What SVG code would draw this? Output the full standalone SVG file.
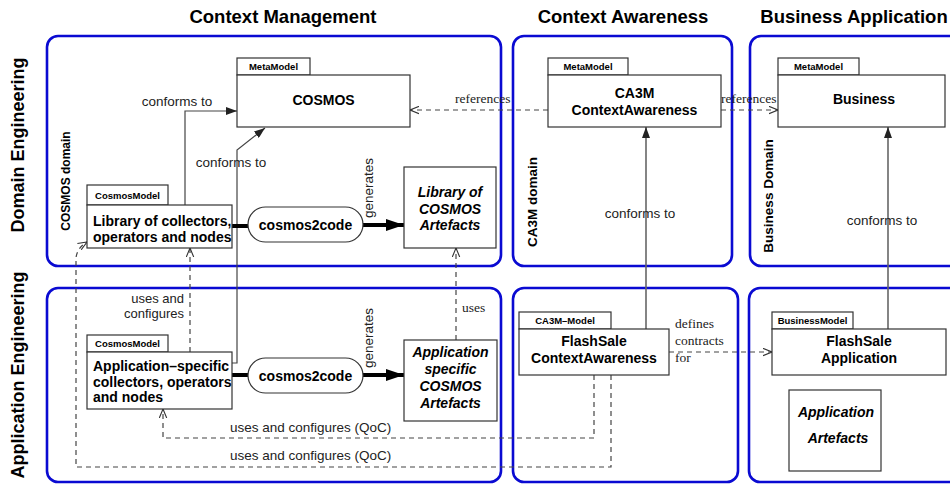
<svg xmlns="http://www.w3.org/2000/svg" width="950" height="484" viewBox="0 0 950 484">
  <defs>
    <!-- solid "conforms to" arrowhead -->
    <marker id="tri" markerUnits="userSpaceOnUse" markerWidth="11" markerHeight="8" refX="11" refY="4" orient="auto">
      <path d="M0,0 L11,4 L0,8 z" fill="#222"/>
    </marker>
    <!-- open arrowhead for dashed dependencies -->
    <marker id="open" markerUnits="userSpaceOnUse" markerWidth="10" markerHeight="9" refX="9" refY="4.5" orient="auto">
      <path d="M0,0.8 L9,4.5 L0,8.2" fill="none" stroke="#333" stroke-width="1.1"/>
    </marker>
    <!-- heavy arrowhead for code generation -->
    <marker id="big" markerUnits="userSpaceOnUse" markerWidth="18" markerHeight="12" refX="18" refY="6" orient="auto">
      <path d="M0,0 L18,6 L0,12 z" fill="#000"/>
    </marker>
  </defs>
  <style>
    .panel{fill:none;stroke:#0a0ad2;stroke-width:2.6}
    .box{fill:#fff;stroke:#333;stroke-width:1.2}
    text{font-family:"Liberation Sans",Arial,Helvetica,sans-serif;fill:#000}
    .title{font-weight:bold;font-size:18.5px;text-anchor:middle}
    .side{font-weight:bold;font-size:18px;text-anchor:middle}
    .dom{font-weight:bold;font-size:13.5px;text-anchor:middle}
    .tab{font-weight:bold;font-size:9.5px;text-anchor:middle}
    .name{font-weight:bold;font-size:14px;text-anchor:middle}
    .left{font-weight:bold;font-size:14px}
    .art{font-weight:bold;font-style:italic;font-size:14px;text-anchor:middle}
    .lbl{font-size:13.5px;fill:#222}
    .ser{font-family:"Liberation Serif","Times New Roman",serif;font-size:13.5px;fill:#222}
    .solid{fill:none;stroke:#444;stroke-width:1.2}
    .gray{fill:none;stroke:#666;stroke-width:1.6}
    .dash{fill:none;stroke:#444;stroke-width:1.2;stroke-dasharray:5 4}
    .thick{fill:none;stroke:#000;stroke-width:4}
  </style>

  <!-- column headings -->
  <text class="title" x="283" y="23">Context Management</text>
  <text class="title" x="623" y="23">Context Awareness</text>
  <text class="title" x="854" y="23">Business Application</text>

  <!-- row headings -->
  <text class="side" transform="translate(24,145) rotate(-90)">Domain Engineering</text>
  <text class="side" transform="translate(24,375) rotate(-90)">Application Engineering</text>

  <!-- domain panels -->
  <g id="panels">
    <rect class="panel" x="47" y="36" width="454" height="230" rx="11"/>
    <rect class="panel" x="513" y="36" width="219" height="230" rx="11"/>
    <rect class="panel" x="750" y="36" width="220" height="230" rx="11"/>
    <rect class="panel" x="47" y="288" width="454" height="194" rx="11"/>
    <rect class="panel" x="513" y="288" width="225" height="194" rx="11"/>
    <rect class="panel" x="749" y="288" width="220" height="194" rx="11"/>
  </g>
  <text class="dom" style="font-size:12px" transform="translate(70,181) rotate(-90)">COSMOS domain</text>
  <text class="dom" transform="translate(537,202) rotate(-90)">CA3M domain</text>
  <text class="dom" transform="translate(773,196) rotate(-90)">Business Domain</text>

  <!-- connectors -->
  <g id="connectors">
    <path class="solid" d="M185,205 V111 H237" marker-end="url(#tri)"/>
    <path class="solid" d="M232,363 H237 V150 L265,128" marker-end="url(#tri)"/>
    <path class="dash" d="M548,110 H410" marker-end="url(#open)"/>
    <path class="dash" d="M721,110 H778" marker-end="url(#open)"/>
    <path class="gray" d="M646,329 V127" marker-end="url(#tri)"/>
    <path class="gray" d="M888,329 V127" marker-end="url(#tri)"/>
    <path class="dash" d="M456,340 V248" marker-end="url(#open)"/>
    <path class="dash" d="M190,352 V248" marker-end="url(#open)"/>
    <path class="dash" d="M594,375 V438 H163 V409" marker-end="url(#open)"/>
    <path class="dash" d="M611,375 V467 H76 V258 Q77,248 87,242" marker-end="url(#open)"/>
    <path class="dash" d="M669,352 H772" marker-end="url(#open)"/>
    <path class="thick" d="M232,226 H248"/>
    <path class="thick" d="M363,225 H404" marker-end="url(#big)"/>
    <path class="thick" d="M232,375 H248"/>
    <path class="thick" d="M363,375 H404" marker-end="url(#big)"/>

    <text class="lbl" x="177" y="106" text-anchor="middle">conforms to</text>
    <text class="lbl" x="231" y="167" text-anchor="middle">conforms to</text>
    <text class="lbl" x="640" y="218" text-anchor="middle">conforms to</text>
    <text class="lbl" x="882" y="225" text-anchor="middle">conforms to</text>
    <text class="ser" x="455" y="103">references</text>
    <text class="ser" x="721" y="103">references</text>
    <text class="lbl" style="font-size:13px" x="184" y="303" text-anchor="end">uses and</text>
    <text class="lbl" style="font-size:13px" x="184" y="318" text-anchor="end">configures</text>
    <text class="ser" x="462" y="312">uses</text>
    <text class="ser" x="675" y="328">defines</text>
    <text class="ser" x="675" y="345">contracts</text>
    <text class="ser" x="675" y="362">for</text>
    <text class="lbl" x="230" y="432">uses and configures (QoC)</text>
    <text class="lbl" x="230" y="460">uses and configures (QoC)</text>
    <text class="lbl" transform="translate(373,188) rotate(-90)" text-anchor="middle">generates</text>
    <text class="lbl" transform="translate(373,338) rotate(-90)" text-anchor="middle">generates</text>
  </g>

  <!-- Context Management: domain engineering -->
  <g id="cosmos-metamodel">
    <rect class="box" x="237" y="58" width="73" height="17"/>
    <text class="tab" x="273.5" y="70">MetaModel</text>
    <rect class="box" x="237" y="75" width="173" height="52"/>
    <text class="name" x="323.5" y="105">COSMOS</text>
  </g>
  <g id="library-model">
    <rect class="box" x="87" y="185" width="81" height="20"/>
    <text class="tab" x="127.5" y="198.5">CosmosModel</text>
    <rect class="box" x="87" y="205" width="145" height="43"/>
    <text class="left" x="93" y="226">Library of collectors,</text>
    <text class="left" x="93" y="242">operators and nodes</text>
  </g>
  <g id="cosmos2code-1">
    <rect class="box" x="248" y="207" width="115" height="35" rx="17.5"/>
    <text class="name" x="305.5" y="230">cosmos2code</text>
  </g>
  <g id="library-artefacts">
    <rect class="box" x="404" y="167" width="92" height="81"/>
    <text class="art" x="450" y="197">Library of</text>
    <text class="art" x="450" y="213.5">COSMOS</text>
    <text class="art" x="450" y="230">Artefacts</text>
  </g>

  <!-- Context Management: application engineering -->
  <g id="app-model">
    <rect class="box" x="87" y="335" width="81" height="17"/>
    <text class="tab" x="127.5" y="347">CosmosModel</text>
    <rect class="box" x="87" y="352" width="145" height="57"/>
    <text class="left" x="93" y="371">Application–specific</text>
    <text class="left" x="93" y="386.5">collectors, operators</text>
    <text class="left" x="93" y="402">and nodes</text>
  </g>
  <g id="cosmos2code-2">
    <rect class="box" x="248" y="358" width="115" height="35" rx="17.5"/>
    <text class="name" x="305.5" y="381">cosmos2code</text>
  </g>
  <g id="app-artefacts">
    <rect class="box" x="404" y="340" width="93" height="81"/>
    <text class="art" x="450.5" y="357">Application</text>
    <text class="art" x="450.5" y="374">specific</text>
    <text class="art" x="450.5" y="391">COSMOS</text>
    <text class="art" x="450.5" y="408">Artefacts</text>
  </g>

  <!-- Context Awareness -->
  <g id="ca3m-metamodel">
    <rect class="box" x="548" y="58" width="80" height="17"/>
    <text class="tab" x="588" y="70">MetaModel</text>
    <rect class="box" x="548" y="75" width="173" height="52"/>
    <text class="name" x="634.5" y="98">CA3M</text>
    <text class="name" x="634.5" y="115">ContextAwareness</text>
  </g>
  <g id="flashsale-ca">
    <rect class="box" x="519" y="312" width="92" height="17"/>
    <text class="tab" x="565" y="324">CA3M–Model</text>
    <rect class="box" x="519" y="329" width="150" height="46"/>
    <text class="name" x="594" y="346">FlashSale</text>
    <text class="name" x="594" y="363">ContextAwareness</text>
  </g>

  <!-- Business Application -->
  <g id="business-metamodel">
    <rect class="box" x="778" y="58" width="81" height="17"/>
    <text class="tab" x="818.5" y="70">MetaModel</text>
    <rect class="box" x="778" y="75" width="167" height="52"/>
    <text class="name" x="864" y="104">Business</text>
  </g>
  <g id="flashsale-app">
    <rect class="box" x="772" y="312" width="81" height="17"/>
    <text class="tab" x="812.5" y="324">BusinessModel</text>
    <rect class="box" x="772" y="329" width="174" height="46"/>
    <text class="name" x="859" y="346">FlashSale</text>
    <text class="name" x="859" y="363">Application</text>
  </g>
  <g id="application-artefacts">
    <rect class="box" x="789" y="390" width="92" height="81"/>
    <text class="art" x="836" y="417">Application</text>
    <text class="art" x="838" y="443">Artefacts</text>
  </g>
</svg>
